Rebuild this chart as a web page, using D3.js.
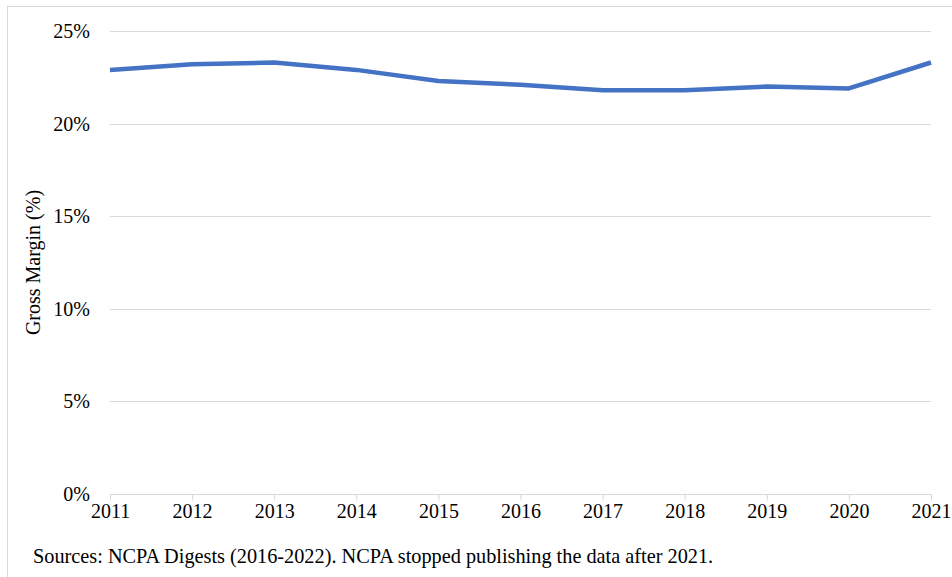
<!DOCTYPE html>
<html>
<head>
<meta charset="utf-8">
<script src="https://cdn.jsdelivr.net/npm/d3@7"></script>
<style>
  body { margin: 0; background: #fff; }
  text { font-family: "Liberation Serif", "Times New Roman", serif; fill: #000; }
</style>
</head>
<body>
<svg width="952" height="577"></svg>
<script>
var years = [2011, 2012, 2013, 2014, 2015, 2016, 2017, 2018, 2019, 2020, 2021];
var grossMargin = [22.9, 23.2, 23.3, 22.9, 22.3, 22.1, 21.8, 21.8, 22.0, 21.9, 23.3];
var yTicks = [0, 5, 10, 15, 20, 25];

var svg = d3.select("svg");

var plotLeft = 110, plotRight = 931, plotTop = 31, plotBottom = 494;
var fontSize = "20px";

// outer frame
svg.append("rect")
   .attr("x", 7.5).attr("y", 6.5)
   .attr("width", 960).attr("height", 600)
   .attr("fill", "none")
   .attr("stroke", "#d9d9d9");

var x = d3.scalePoint().domain(years).range([plotLeft, plotRight]);
var y = d3.scaleLinear().domain([0, 25]).range([plotBottom, plotTop]);

// gridlines
svg.append("g")
   .selectAll("line")
   .data(yTicks.filter(function(d) { return d > 0; }))
   .enter().append("line")
   .attr("x1", plotLeft).attr("x2", plotRight)
   .attr("y1", function(d) { return Math.round(y(d)) + 0.5; })
   .attr("y2", function(d) { return Math.round(y(d)) + 0.5; })
   .attr("stroke", "#d9d9d9")
   .attr("stroke-width", 1);

// y labels
svg.append("g")
   .selectAll("text")
   .data(yTicks)
   .enter().append("text")
   .attr("x", 90)
   .attr("y", function(d) { return y(d) + 7; })
   .attr("text-anchor", "end")
   .style("font-size", fontSize)
   .text(function(d) { return d + "%"; });

// x axis
var xAxis = svg.append("g")
   .attr("transform", "translate(0," + (Math.round(plotBottom) + 0.5) + ")")
   .call(d3.axisBottom(x).tickSize(6).tickPadding(3).tickFormat(d3.format("d")));
xAxis.select(".domain").attr("stroke", "#d9d9d9").attr("d", "M" + plotLeft + ",0H" + plotRight);
xAxis.selectAll(".tick line").attr("stroke", "#d9d9d9");
xAxis.selectAll(".tick text")
   .style("font-size", fontSize)
   .style("font-family", "'Liberation Serif', 'Times New Roman', serif")
   .attr("fill", "#000");

// line
var line = d3.line()
   .x(function(d, i) { return x(years[i]); })
   .y(function(d) { return y(d); });

svg.append("path")
   .datum(grossMargin)
   .attr("d", line)
   .attr("fill", "none")
   .attr("stroke", "#4472c4")
   .attr("stroke-width", 4.5)
   .attr("stroke-linejoin", "round");

// y axis title
svg.append("text")
   .attr("transform", "translate(40," + ((plotTop + plotBottom) / 2) + ") rotate(-90)")
   .attr("text-anchor", "middle")
   .style("font-size", "20px")
   .text("Gross Margin (%)");

// source note
svg.append("text")
   .attr("x", 33)
   .attr("y", 563)
   .style("font-size", "20.3px")
   .text("Sources: NCPA Digests (2016-2022). NCPA stopped publishing the data after 2021.");
</script>
</body>
</html>
